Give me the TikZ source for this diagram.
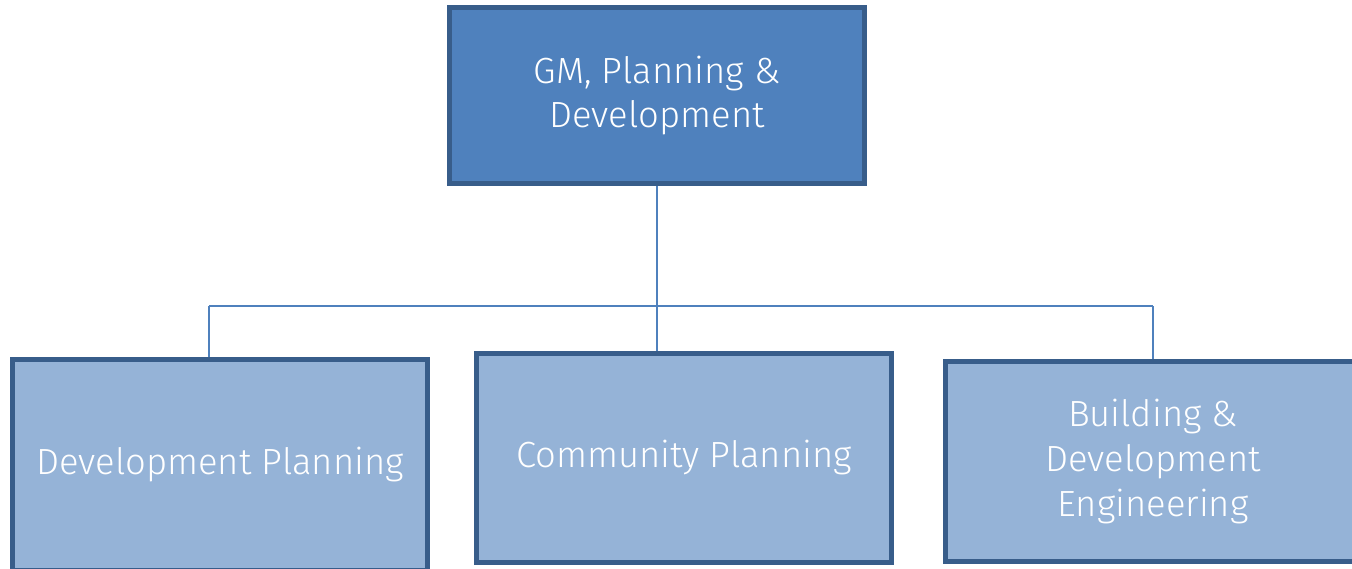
\documentclass[tikz,border=0pt]{standalone}
\usepackage{fontspec}
\setmainfont{Fira Sans}[UprightFont={* Light}]
\usepackage{xcolor}
\definecolor{HeadBlue}{HTML}{4F81BD}
\definecolor{UnitBlue}{HTML}{95B3D7}
\definecolor{EdgeBlue}{HTML}{385D8A}
\usetikzlibrary{calc}

\begin{document}
\begin{tikzpicture} [x=0.75pt, y=-0.75pt,
				head/.style={
				% The shape:
				rectangle,
				% The size:
      				minimum width=311pt, minimum height=132pt,
				% The border:
      				line width=3.75pt,
     				draw=EdgeBlue,
      				% The filling:
				fill=HeadBlue,
				% Font
				text=white, font=\fontsize{27.3}{33}\selectfont
    				},
				unit/.style={
				% The shape:
				rectangle,
				% The size:
      				minimum width=311pt,
				% The border:
      				line width=3.75pt,draw=EdgeBlue,
      				% The filling:
				fill=UnitBlue,
				% Font
				text=white, font=\fontsize{27.3}{33.75}\selectfont
    				},
				link/.style={
				line width=1.5pt, draw=HeadBlue
    				},
				]
    \tikzstyle{every node} = [align=center]
    \useasboundingbox (0,0) rectangle (1352,568);

    \node [head] (gm) at (657,95.5) {GM, Planning \&\\Development};
    \node [unit, minimum height=158pt] (dev) at (220,465) {Development Planning};
    \node [unit, minimum height=157pt] (com) at (684,458) {Community Planning};
    \node [unit, minimum height=150pt] (bde) at (1153,461.5) {Building \&\\Development\\Engineering};

    % the bar
    \coordinate (bar-l) at (209,306);
    \coordinate (bar-r) at (1153,306);

    \draw [link] (gm.south) -- (gm.south |- com.north);
    \draw [link] (bar-l) -- (bar-r);
    \draw [link] (bar-l) -- (bar-l |- dev.north);
    \draw [link] (bar-r) -- (bar-r |- bde.north);
\end{tikzpicture}
\end{document}
